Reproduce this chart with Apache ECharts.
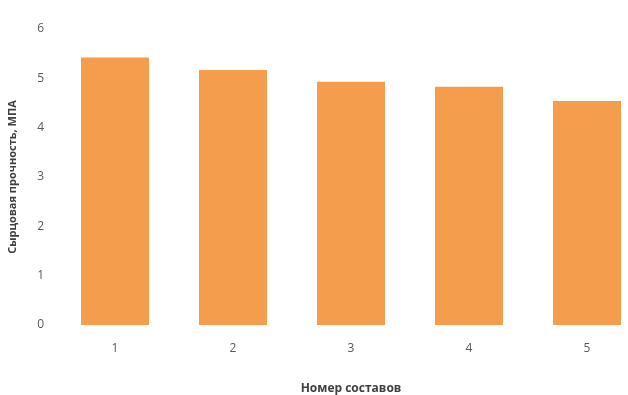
<!DOCTYPE html>
<html>
<head>
<meta charset="utf-8">
<script src="https://cdn.jsdelivr.net/npm/echarts@6/dist/echarts.min.js"></script>
<style>
  html, body { margin: 0; padding: 0; background: #fff; }
  #chart { width: 628px; height: 395px; }
</style>
</head>
<body>
<div id="chart"></div>
<script>
// Compositions and their green (raw) strength, MPa
const categories = ['1', '2', '3', '4', '5'];
const strength = [5.42, 5.17, 4.93, 4.83, 4.54];
const yTicks = [0, 1, 2, 3, 4, 5, 6];

const chart = echarts.init(document.getElementById('chart'));
chart.setOption({
  animation: false,
  backgroundColor: '#ffffff',
  textStyle: { fontFamily: '"Open Sans", "Noto Sans", sans-serif' },
  grid: { left: 56, top: 29, bottom: 70, width: 590, outerBoundsMode: 'none', containLabel: false },
  xAxis: {
    type: 'category',
    data: categories,
    axisLine: { show: false },
    axisTick: { show: false },
    axisLabel: { color: '#595959', fontSize: 12, margin: 18 },
    name: 'Номер составов',
    nameLocation: 'middle',
    nameGap: 58,
    nameTextStyle: { color: '#404040', fontSize: 12, fontWeight: 'bold' }
  },
  yAxis: {
    type: 'value',
    min: yTicks[0],
    max: yTicks[yTicks.length - 1],
    interval: 1,
    splitLine: { show: false },
    axisLine: { show: false },
    axisTick: { show: false },
    axisLabel: { color: '#595959', fontSize: 12, margin: 12 },
    name: 'Сырцовая прочность, МПА',
    nameLocation: 'middle',
    nameGap: 38,
    nameTextStyle: { color: '#404040', fontSize: 11, fontWeight: 'bold' }
  },
  series: [{
    type: 'bar',
    data: strength,
    barWidth: 68,
    itemStyle: { color: '#F49D4C' }
  }]
});
</script>
</body>
</html>
